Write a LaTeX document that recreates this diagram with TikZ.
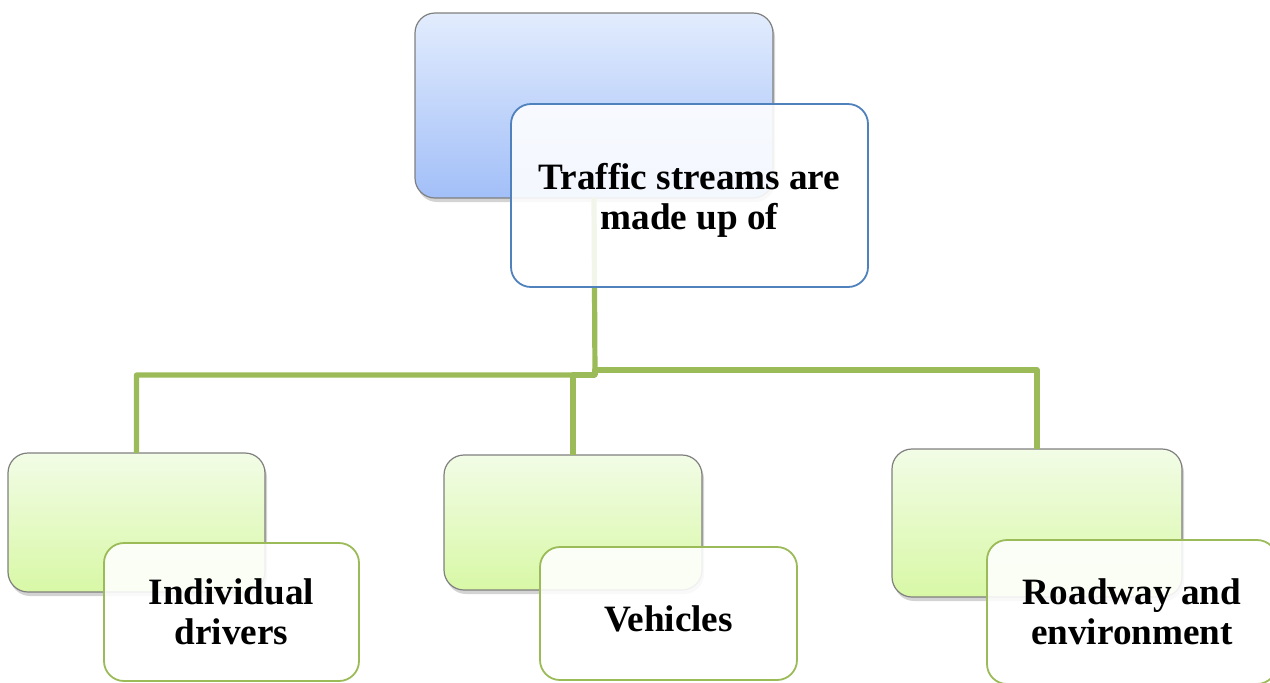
\documentclass[tikz,border=0pt]{standalone}
\usepackage{fontspec}
\setmainfont{Liberation Serif}
\usetikzlibrary{shadows}
\definecolor{bluebd}{HTML}{4F81BD}
\definecolor{greenbd}{HTML}{9BBB59}
\definecolor{greybd}{HTML}{7F7F7F}
\definecolor{bluetop}{HTML}{E2ECFD}
\definecolor{bluebot}{HTML}{A2BFF8}
\definecolor{greentop}{HTML}{F2FCE6}
\definecolor{greenbot}{HTML}{D8F8A6}
\tikzset{
  backbox/.style={rectangle, rounded corners=10pt, draw=greybd, line width=0.6pt,
    inner sep=0pt, outer sep=0pt,
    drop shadow={opacity=0.35, shadow xshift=1pt, shadow yshift=-2pt}},
  blueback/.style={backbox, top color=bluetop, bottom color=bluebot},
  greenback/.style={backbox, top color=greentop, bottom color=greenbot},
  frontbox/.style={rectangle, rounded corners=10pt, line width=0.9pt,
    fill=white, fill opacity=0.88, inner sep=0pt, outer sep=0pt},
  bluefront/.style={frontbox, draw=bluebd},
  greenfront/.style={frontbox, draw=greenbd},
  boxtext/.style={align=center, inner sep=0pt,
    font=\fontsize{18.6}{20}\selectfont\bfseries},
  conn/.style={draw=greenbd, line width=2.6pt, line join=round}
}
\begin{document}
\begin{tikzpicture}[x=0.5pt, y=-0.5pt]
\useasboundingbox (0,0) rectangle (1270,682);
% back boxes
\node[blueback, minimum width=179pt, minimum height=92.5pt] (tb) at (594,105.5) {};
\node[greenback, minimum width=128.5pt, minimum height=69.5pt] (lb) at (136.5,522.5) {};
\node[greenback, minimum width=129pt, minimum height=67.5pt] (mb) at (573,522.5) {};
\node[greenback, minimum width=145pt, minimum height=74pt] (rb) at (1037,523) {};
% connectors
\coordinate (j1) at (595,375);
\coordinate (j2) at (595,370);
\draw[conn] (tb.south) -- (j1) -| (lb.north);
\draw[conn] (j1) -| (mb.north);
\draw[conn] (j1) -- (j2) -| (rb.north);
% front boxes
\node[bluefront, minimum width=178.5pt, minimum height=91.5pt] (tf) at (689.5,195.5) {};
\node[greenfront, minimum width=127.5pt, minimum height=69pt] (lf) at (231.5,612) {};
\node[greenfront, minimum width=128.5pt, minimum height=66.5pt] (mf) at (668.5,613.5) {};
\node[greenfront, minimum width=145pt, minimum height=72pt] (rf) at (1132,612) {};
% texts
\node[boxtext] (tft) at ([yshift=-2.5pt]tf.center) {Traffic streams are\\made up of};
\node[boxtext] (lft) at ([yshift=0pt]lf.center) {Individual\\drivers};
\node[boxtext] (mft) at ([yshift=-2.5pt]mf.center) {Vehicles};
\node[boxtext] (rft) at ([yshift=0pt]rf.center) {Roadway and\\environment};
\end{tikzpicture}
\end{document}
